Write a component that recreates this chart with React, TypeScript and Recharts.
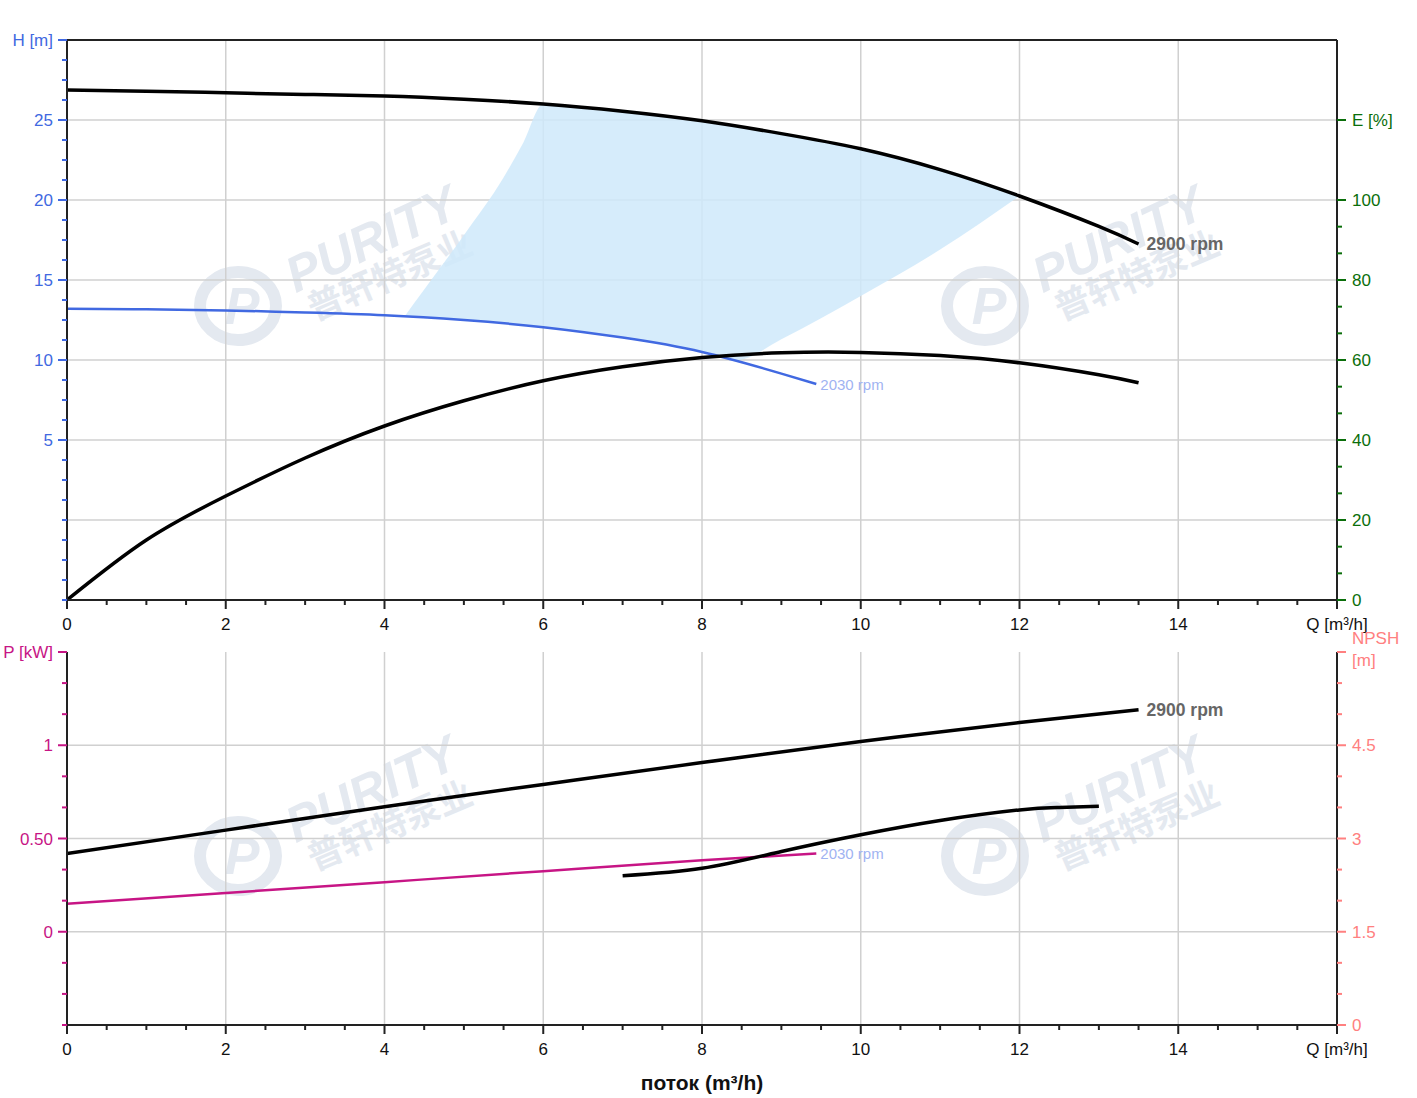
import { Area, CartesianGrid, ComposedChart, LabelList, Line, XAxis, YAxis } from 'recharts'

const FONT = 'Arial, "Liberation Sans", sans-serif'

// Q-H, 2900 rpm (m³/h -> m)
const Q_H2900 = [0, 1, 2, 3, 4, 5, 6, 7, 8, 9, 10, 11, 12, 13, 13.5]
const H_2900 = [26.88, 26.8, 26.7, 26.6, 26.5, 26.3, 26.0, 25.55, 24.95, 24.15, 23.2, 21.9, 20.25, 18.35, 17.25]

// Q-H, 2030 rpm
const Q_H2030 = [0, 1, 2, 3, 4, 5, 6, 7, 8, 9, 9.44]
const H_2030 = [13.2, 13.17, 13.1, 12.97, 12.8, 12.5, 12.05, 11.4, 10.5, 9.15, 8.5]

// efficiency, 2900 rpm (%)
const Q_EFF = [0, 1, 2, 3, 4, 5, 6, 7, 8, 9, 10, 11, 12, 13, 13.5]
const EFF = [0, 15, 26, 35.5, 43.5, 49.8, 54.8, 58.3, 60.6, 61.8, 61.9, 61.1, 59.3, 56.3, 54.3]

// operating band (shaded)
const Q_BAND = [4.25, 4.5, 5, 5.5, 5.75, 6, 7, 8, 8.45, 9, 10, 11, 12]
const BAND_LOW = [12.7, 12.65, 12.5, 12.3, 12.18, 12.05, 11.4, 10.5, 10.0, 11.3, 14.0, 16.9, 20.25]
const BAND_HIGH = [12.7, 14.4, 17.8, 21.4, 23.6, 26.0, 25.55, 24.95, 24.6, 24.15, 23.2, 21.9, 20.25]

// power (kW)
const Q_P2900 = [0, 2, 4, 6, 8, 10, 12, 13.5]
const P_2900 = [0.42, 0.545, 0.67, 0.79, 0.907, 1.02, 1.122, 1.19]
const Q_P2030 = [0, 2, 4, 6, 8, 9.44]
const P_2030 = [0.15, 0.208, 0.266, 0.325, 0.383, 0.42]

// NPSH (m)
const Q_NPSH = [7, 8, 9, 10, 11, 12, 12.5, 13]
const NPSH = [2.4, 2.52, 2.79, 3.06, 3.29, 3.46, 3.5, 3.52]

// axes
const Q_LABEL_VALUES = [0, 2, 4, 6, 8, 10, 12, 14, 16]
const Q_LABELS = ['0', '2', '4', '6', '8', '10', '12', '14', 'Q [m³/h]']
const LS_LABEL_VALUES = [0, 0.5, 1, 1.5, 2, 2.5, 3, 3.5, 4, 16 / 3.6]
const LS_LABELS = ['0', '0.5', '1', '1.5', '2', '2.5', '3', '3.5', '4', 'Q [L/s]']
const H_LABEL_VALUES = [5, 10, 15, 20, 25, 30]
const H_LABELS = ['5', '10', '15', '20', '25', 'H [m]']
const E_LABEL_VALUES = [0, 20, 40, 60, 80, 100, 120]
const E_LABELS = ['0', '20', '40', '60', '80', '100', 'E [%]']
const P_LABEL_VALUES = [0, 0.5, 1, 1.5]
const P_LABELS = ['0', '0.50', '1', 'P [kW]']
const NPSH_LABEL_VALUES = [0, 1.5, 3, 4.5, 6]
const NPSH_LABELS = ['0', '1.5', '3', '4.5', 'NPSH\n[m]']

const GRID_Q = [2, 4, 6, 8, 10, 12, 14]
const GRID_H = [0, 5, 10, 15, 20, 25]
const GRID_P = [0, 0.5, 1]

const steps = (from: number, to: number, step: number) =>
  Array.from({ length: Math.round((to - from) / step) + 1 }, (_, i) => +(from + i * step).toFixed(6))

const Q_TICKS = steps(0, 16, 0.5)
const LS_TICKS = [...steps(0, 25 / 6, 1 / 6), 16 / 3.6]
const H_TICKS = steps(-5, 30, 1.25)
const E_TICKS = [...steps(0, 100, 20 / 3), 120]
const P_TICKS = steps(-0.5, 1.5, 1 / 6)
const NPSH_TICKS = steps(0, 6, 0.5)

const zip = (xs: number[], ys: number[]) => xs.map((q, i) => ({ q, v: ys[i] }))

type Side = 'top' | 'bottom' | 'left' | 'right'

const makeTick =
  (side: Side, color: string, textColor: string, values: number[], labels: string[]) =>
  (props: any) => {
    const { x, y, payload } = props
    const val = payload.value as number
    const idx = values.findIndex((m) => Math.abs(m - val) < 1e-4)
    const major = idx >= 0
    const len = major ? 9 : 5
    const text = major ? labels[idx] : ''
    const common = { fontFamily: FONT, fontSize: 17, fill: textColor }
    if (side === 'bottom') {
      return (
        <g>
          <line x1={x} y1={y} x2={x} y2={y + len} stroke={color} strokeWidth={2} />
          {text && <text x={x} y={y + 30} textAnchor="middle" {...common}>{text}</text>}
        </g>
      )
    }
    if (side === 'top') {
      return (
        <g>
          <line x1={x} y1={y} x2={x} y2={y - len} stroke={color} strokeWidth={2} />
          {text && <text x={x} y={y - 19} textAnchor="middle" {...common}>{text}</text>}
        </g>
      )
    }
    const lines = text ? text.split('\n') : []
    const tx = side === 'left' ? x - 14 : x + 15
    const baseY = y + 6 - (lines.length - 1) * 14
    return (
      <g>
        <line x1={x} y1={y} x2={side === 'left' ? x - len : x + len} y2={y} stroke={color} strokeWidth={2} />
        {lines.map((l, i) => (
          <text key={i} x={tx} y={baseY + i * 22} textAnchor={side === 'left' ? 'end' : 'start'} {...common}>
            {l}
          </text>
        ))}
      </g>
    )
  }

const endLabel =
  (text: string, n: number, fill: string, bold: boolean, dx: number) =>
  (p: any) =>
    p.index === n - 1 ? (
      <text
        x={p.x + dx}
        y={p.y + 6}
        fill={fill}
        fontFamily={FONT}
        fontSize={bold ? 17.5 : 15}
        fontWeight={bold ? 'bold' : 'normal'}
      >
        {text}
      </text>
    ) : null

const AXIS_LINE = { stroke: '#222', strokeWidth: 2 }
const BLUE = '#4169e1'
const GREEN = '#0a6e0a'
const MAGENTA = '#c71585'
const SALMON = '#ff8080'

const Watermark = () => {
  const spots = [
    [372, 240],
    [1119, 240],
    [372, 790],
    [1119, 790],
  ]
  const c = '#e4e9f0'
  return (
    <svg width={1417} height={1098} style={{ position: 'absolute', left: 0, top: 0 }}>
      {spots.map(([cx, cy], i) => (
        <g key={i}>
          <ellipse cx={cx - 134} cy={cy + 66} rx={38} ry={34} fill="none" stroke={c} strokeWidth={12} />
          <text
            x={cx - 130}
            y={cy + 84}
            textAnchor="middle"
            fontFamily={FONT}
            fontSize={52}
            fontWeight={900}
            fontStyle="italic"
            fill={c}
          >
            P
          </text>
          <text
            x={cx}
            y={cy + 16}
            textAnchor="middle"
            fontFamily={FONT}
            fontSize={50}
            fontWeight={900}
            fontStyle="italic"
            fill={c}
            transform={`rotate(-25 ${cx} ${cy})`}
          >
            PURITY
          </text>
          <text
            x={cx + 18}
            y={cy + 48}
            textAnchor="middle"
            fontFamily='"Noto Sans CJK SC", sans-serif'
            fontSize={35}
            fontWeight={700}
            fill={c}
            transform={`rotate(-23 ${cx + 18} ${cy + 36})`}
          >
            普轩特泵业
          </text>
        </g>
      ))}
    </svg>
  )
}

export default function App() {
  const h2900 = zip(Q_H2900, H_2900)
  const h2030 = zip(Q_H2030, H_2030)
  const eff = zip(Q_EFF, EFF)
  const band = Q_BAND.map((q, i) => ({ q, range: [BAND_LOW[i], BAND_HIGH[i]] }))
  const p2900 = zip(Q_P2900, P_2900)
  const p2030 = zip(Q_P2030, P_2030)
  const npsh = zip(Q_NPSH, NPSH)

  return (
    <div style={{ position: 'absolute', left: 0, top: 0, width: 1417, height: 1098, background: '#fff' }}>
      <Watermark />
      <div style={{ position: 'absolute', left: 0, top: 0 }}>
        <ComposedChart width={1417} height={640} margin={{ top: 0, right: 0, bottom: 0, left: 0 }}>
          <CartesianGrid
            xAxisId="q"
            yAxisId="h"
            verticalValues={GRID_Q}
            horizontalValues={GRID_H}
            stroke="#d0d0d0"
            strokeWidth={1.5}
          />
          <XAxis
            xAxisId="q"
            dataKey="q"
            type="number"
            domain={[0, 16]}
            allowDataOverflow
            ticks={Q_TICKS}
            interval={0}
            height={40}
            tickLine={false}
            tickSize={0}
            tickMargin={0}
            axisLine={AXIS_LINE}
            tick={makeTick('bottom', '#222', '#111', Q_LABEL_VALUES, Q_LABELS)}
          />
          <XAxis
            xAxisId="ls"
            orientation="top"
            type="number"
            domain={[0, 16 / 3.6]}
            allowDataOverflow
            ticks={LS_TICKS}
            interval={0}
            height={40}
            tickLine={false}
            tickSize={0}
            tickMargin={0}
            axisLine={AXIS_LINE}
            tick={makeTick('top', '#222', '#111', LS_LABEL_VALUES, LS_LABELS)}
          />
          <YAxis
            yAxisId="h"
            type="number"
            domain={[-5, 30]}
            allowDataOverflow
            ticks={H_TICKS}
            interval={0}
            width={67}
            tickLine={false}
            tickSize={0}
            tickMargin={0}
            axisLine={AXIS_LINE}
            tick={makeTick('left', BLUE, BLUE, H_LABEL_VALUES, H_LABELS)}
          />
          <YAxis
            yAxisId="e"
            orientation="right"
            type="number"
            domain={[0, 140]}
            allowDataOverflow
            ticks={E_TICKS}
            interval={0}
            width={80}
            tickLine={false}
            tickSize={0}
            tickMargin={0}
            axisLine={AXIS_LINE}
            tick={makeTick('right', GREEN, GREEN, E_LABEL_VALUES, E_LABELS)}
          />
          <Area
            xAxisId="q"
            yAxisId="h"
            data={band}
            dataKey="range"
            type="monotone"
            stroke="none"
            fill="#cfe9fa"
            fillOpacity={0.85}
            isAnimationActive={false}
          />
          <Line
            xAxisId="q"
            yAxisId="h"
            data={h2030}
            dataKey="v"
            type="natural"
            stroke={BLUE}
            strokeWidth={2.5}
            dot={false}
            isAnimationActive={false}
          >
            <LabelList dataKey="v" content={endLabel('2030 rpm', h2030.length, '#9fb3f2', false, 4)} />
          </Line>
          <Line
            xAxisId="q"
            yAxisId="h"
            data={h2900}
            dataKey="v"
            type="natural"
            stroke="#000"
            strokeWidth={3.5}
            dot={false}
            isAnimationActive={false}
          >
            <LabelList dataKey="v" content={endLabel('2900 rpm', h2900.length, '#666', true, 8)} />
          </Line>
          <Line
            xAxisId="q"
            yAxisId="e"
            data={eff}
            dataKey="v"
            type="natural"
            stroke="#000"
            strokeWidth={3.5}
            dot={false}
            isAnimationActive={false}
          />
        </ComposedChart>
      </div>
      <div style={{ position: 'absolute', left: 0, top: 612 }}>
        <ComposedChart width={1417} height={498} margin={{ top: 40, right: 0, bottom: 0, left: 0 }}>
          <CartesianGrid
            xAxisId="q"
            yAxisId="p"
            verticalValues={GRID_Q}
            horizontalValues={GRID_P}
            stroke="#d0d0d0"
            strokeWidth={1.5}
          />
          <XAxis
            xAxisId="q"
            dataKey="q"
            type="number"
            domain={[0, 16]}
            allowDataOverflow
            ticks={Q_TICKS}
            interval={0}
            height={85}
            tickLine={false}
            tickSize={0}
            tickMargin={0}
            axisLine={AXIS_LINE}
            tick={makeTick('bottom', '#222', '#111', Q_LABEL_VALUES, Q_LABELS)}
            label={{
              value: 'поток (m³/h)',
              position: 'insideBottom',
              offset: 20,
              fill: '#111',
              fontWeight: 'bold',
              fontSize: 21,
              fontFamily: FONT,
            }}
          />
          <YAxis
            yAxisId="p"
            type="number"
            domain={[-0.5, 1.5]}
            allowDataOverflow
            ticks={P_TICKS}
            interval={0}
            width={67}
            tickLine={false}
            tickSize={0}
            tickMargin={0}
            axisLine={AXIS_LINE}
            tick={makeTick('left', MAGENTA, MAGENTA, P_LABEL_VALUES, P_LABELS)}
          />
          <YAxis
            yAxisId="n"
            orientation="right"
            type="number"
            domain={[0, 6]}
            allowDataOverflow
            ticks={NPSH_TICKS}
            interval={0}
            width={80}
            tickLine={false}
            tickSize={0}
            tickMargin={0}
            axisLine={AXIS_LINE}
            tick={makeTick('right', SALMON, SALMON, NPSH_LABEL_VALUES, NPSH_LABELS)}
          />
          <Line
            xAxisId="q"
            yAxisId="p"
            data={p2030}
            dataKey="v"
            type="natural"
            stroke={MAGENTA}
            strokeWidth={2.5}
            dot={false}
            isAnimationActive={false}
          >
            <LabelList dataKey="v" content={endLabel('2030 rpm', p2030.length, '#9fb3f2', false, 4)} />
          </Line>
          <Line
            xAxisId="q"
            yAxisId="p"
            data={p2900}
            dataKey="v"
            type="natural"
            stroke="#000"
            strokeWidth={3.5}
            dot={false}
            isAnimationActive={false}
          >
            <LabelList dataKey="v" content={endLabel('2900 rpm', p2900.length, '#666', true, 8)} />
          </Line>
          <Line
            xAxisId="q"
            yAxisId="n"
            data={npsh}
            dataKey="v"
            type="natural"
            stroke="#000"
            strokeWidth={3.5}
            dot={false}
            isAnimationActive={false}
          />
        </ComposedChart>
      </div>
    </div>
  )
}
